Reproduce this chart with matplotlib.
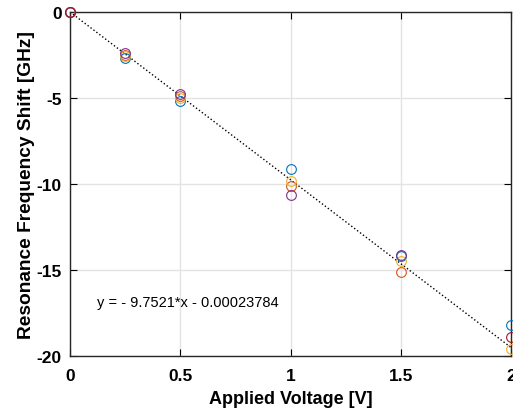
import numpy as np
import matplotlib
matplotlib.use("Agg")
import matplotlib.pyplot as plt

plt.rcParams['font.family'] = ['Liberation Sans', 'DejaVu Sans']

voltage = [0, 0.25, 0.5, 1.0, 1.5, 2.0]
series_blue = [0, -2.7, -5.2, -9.1, -14.2, -18.2]
series_orange = [0, -2.5, -4.9, -10.1, -15.1, np.nan]
series_yellow = [0, -2.55, -5.0, -9.8, -14.5, -19.6]
series_purple = [0, -2.4, -4.75, -10.65, -14.15, np.nan]
series_darkred = [0, np.nan, np.nan, np.nan, np.nan, -18.9]
fit_slope = -9.7521
fit_intercept = -0.00023784
fit_label = "y = - 9.7521*x - 0.00023784"

colors = [(0, 0.447, 0.741), (0.85, 0.325, 0.098), (0.929, 0.694, 0.125),
          (0.494, 0.184, 0.556), (0.635, 0.078, 0.184)]

fig = plt.figure(figsize=(5.13, 4.10), dpi=100)
ax = fig.add_axes([70/513, 1-357/410, (511-70)/513, (357-13)/410])

xf = np.linspace(0, 2, 50)
ax.plot(xf, fit_slope*xf + fit_intercept, ':', color='black', lw=1.0, zorder=2)

for s, c in zip([series_blue, series_orange, series_yellow, series_purple, series_darkred], colors):
    ax.plot(voltage, s, 'o', mfc='none', mec=c, ms=7, mew=0.8, clip_on=False, zorder=3)

ax.set_xlim(0, 2)
ax.set_ylim(-20, 0)
ax.set_xticks([0, 0.5, 1, 1.5, 2])
ax.set_xticklabels(['0', '0.5', '1', '1.5', '2'])
ax.set_yticks([-20, -15, -10, -5, 0])
ax.set_yticklabels(['-20', '-15', '-10', '-5', '0'])
ax.grid(True, color='#e3e3e3', lw=1.0)
ax.set_axisbelow(True)
ax.tick_params(direction='in', top=True, right=True, length=5, width=0.8,
               labelsize=12.5)
ax.tick_params(axis='x', pad=9)
ax.tick_params(axis='y', pad=6)
for lab in ax.get_xticklabels() + ax.get_yticklabels():
    lab.set_fontweight('bold')
for sp in ax.spines.values():
    sp.set_linewidth(1.0)
    sp.set_color('#262626')

ax.set_xlabel('Applied Voltage [V]', fontsize=13, fontweight='bold', labelpad=5)
ax.set_ylabel('Resonance Frequency Shift [GHz]', fontsize=13.8, fontweight='bold', labelpad=1)

ax.text(0.122, -16.86, fit_label, fontsize=10.5, va='center', ha='left')

fig.savefig('out.png', dpi=100)
